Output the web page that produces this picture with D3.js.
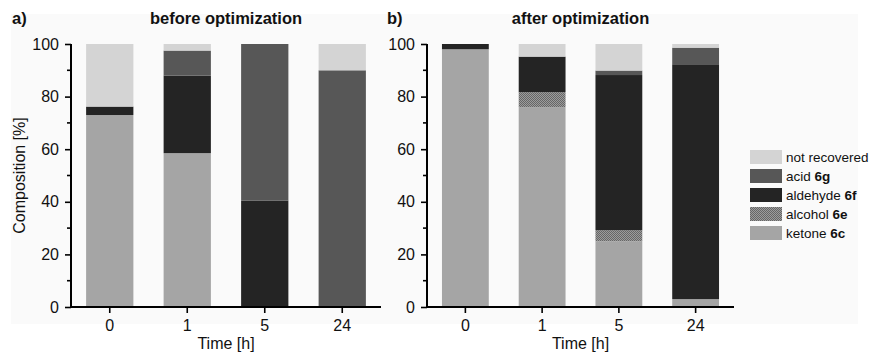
<!DOCTYPE html>
<html><head><meta charset="utf-8">
<script src="https://cdn.jsdelivr.net/npm/d3@7"></script>
<style>body{margin:0;background:#fff}svg{display:block;font-family:"Liberation Sans",Arial,sans-serif}</style>
</head><body><svg id="c" width="875" height="354"></svg>
<script>
const categories = ["0","1","5","24"];
const seriesKeys = ["ketone","alcohol","aldehyde","acid","notRecovered"];
const legendLabels = [
  {key:"notRecovered", text:"not recovered", bold:""},
  {key:"acid", text:"acid ", bold:"6g"},
  {key:"aldehyde", text:"aldehyde ", bold:"6f"},
  {key:"alcohol", text:"alcohol ", bold:"6e"},
  {key:"ketone", text:"ketone ", bold:"6c"}
];
// before optimization
const beforeKetone   = [73, 58.5, 0, 0];
const beforeAlcohol  = [0, 0, 0, 0];
const beforeAldehyde = [3.2, 29.5, 40.5, 0];
const beforeAcid     = [0, 9.5, 59.5, 90];
const beforeNotRec   = [23.8, 2.5, 0, 10];
// after optimization
const afterKetone   = [98, 76, 25, 3];
const afterAlcohol  = [0, 5.7, 4.2, 0];
const afterAldehyde = [2, 13.5, 59, 89.3];
const afterAcid     = [0, 0, 1.7, 6.3];
const afterNotRec   = [0, 4.8, 10.1, 1.4];
const yTicks = [0,20,40,60,80,100];
const yMinor = [10,30,50,70,90];

const colors = {notRecovered:"#d4d4d4", acid:"#575757", aldehyde:"#242424", alcohol:"url(#dots)", ketone:"#a5a5a5"};

const svg = d3.select("#c");
const defs = svg.append("defs");
const pat = defs.append("pattern").attr("id","dots").attr("width",2).attr("height",2).attr("patternUnits","userSpaceOnUse");
pat.append("rect").attr("width",2).attr("height",2).attr("fill","#9c9c9c");
pat.append("rect").attr("width",1).attr("height",1).attr("fill","#666");
pat.append("rect").attr("x",1).attr("y",1).attr("width",1).attr("height",1).attr("fill","#666");

svg.append("rect").attr("x",11).attr("y",14).attr("width",847).attr("height",310).attr("fill","#fafafa");

function makeRows(k,al,ald,ac,nr){
  return categories.map((c,i)=>({cat:c, ketone:k[i], alcohol:al[i], aldehyde:ald[i], acid:ac[i], notRecovered:nr[i]}));
}
const panels = [
  {label:"a)", title:"before optimization", x0:71, x1:381, labelX:12, rows:makeRows(beforeKetone,beforeAlcohol,beforeAldehyde,beforeAcid,beforeNotRec), ylabel:true},
  {label:"b)", title:"after optimization", x0:427, x1:734, labelX:387, rows:makeRows(afterKetone,afterAlcohol,afterAldehyde,afterAcid,afterNotRec), ylabel:false}
];
const y = d3.scaleLinear().domain([0,100]).range([307,44]);
const stack = d3.stack().keys(seriesKeys);

panels.forEach(p=>{
  const x = d3.scaleBand().domain(categories).range([p.x0,p.x1]).paddingInner(0.39).paddingOuter(0.195);
  const g = svg.append("g");
  const layers = stack(p.rows);
  g.selectAll("g.layer").data(layers).join("g").attr("fill",d=>colors[d.key])
    .selectAll("rect").data(d=>d).join("rect")
    .attr("x",d=>x(d.data.cat)).attr("width",x.bandwidth())
    .attr("y",d=>y(d[1])).attr("height",d=>Math.max(0,y(d[0])-y(d[1])));

  // y axis
  const ya = g.append("g").attr("transform",`translate(${p.x0},0)`)
    .call(d3.axisLeft(y).tickValues(yTicks).tickSize(6).tickPadding(6));
  ya.select(".domain").attr("d",`M0,${y(0)}V${y(100)}`).attr("stroke-width",2);
  ya.selectAll(".tick line").attr("stroke-width",1.6);
  ya.selectAll("text").attr("font-size",16).attr("fill","#111");
  g.append("g").selectAll("line").data(yMinor).join("line")
    .attr("x1",p.x0-4).attr("x2",p.x0).attr("y1",d=>y(d)).attr("y2",d=>y(d))
    .attr("stroke","#000").attr("stroke-width",1.6);
  // x axis
  const xa = g.append("g").attr("transform",`translate(0,${y(0)})`)
    .call(d3.axisBottom(x).tickSize(6).tickPadding(7));
  xa.select(".domain").attr("d",`M${p.x0-1},0H${p.x1}`).attr("stroke-width",2);
  xa.selectAll(".tick line").attr("stroke-width",1.6);
  xa.selectAll("text").attr("font-size",16).attr("fill","#111");

  svg.append("text").attr("x",(p.x0+p.x1)/2).attr("y",349).attr("text-anchor","middle")
    .attr("font-size",16).attr("fill","#111").text("Time [h]");
  svg.append("text").attr("x",(p.x0+p.x1)/2).attr("y",24).attr("text-anchor","middle")
    .attr("font-size",16.5).attr("font-weight","bold").attr("fill","#111").text(p.title);
  svg.append("text").attr("x",p.labelX).attr("y",24)
    .attr("font-size",16.5).attr("font-weight","bold").attr("fill","#111").text(p.label);
  if(p.ylabel){
    svg.append("text").attr("transform",`translate(25,${(y(0)+y(100))/2}) rotate(-90)`)
      .attr("text-anchor","middle").attr("font-size",16).attr("fill","#111").text("Composition [%]");
  }
});

// legend
const lg = svg.append("g");
legendLabels.forEach((l,i)=>{
  const cy = 157 + i*19;
  lg.append("rect").attr("x",750).attr("y",cy-7).attr("width",32).attr("height",14).attr("fill",colors[l.key]);
  const t = lg.append("text").attr("x",786).attr("y",cy+5).attr("font-size",13.5).attr("fill","#111");
  t.append("tspan").text(l.text);
  if(l.bold) t.append("tspan").attr("font-weight","bold").text(l.bold);
});
</script></body></html>
